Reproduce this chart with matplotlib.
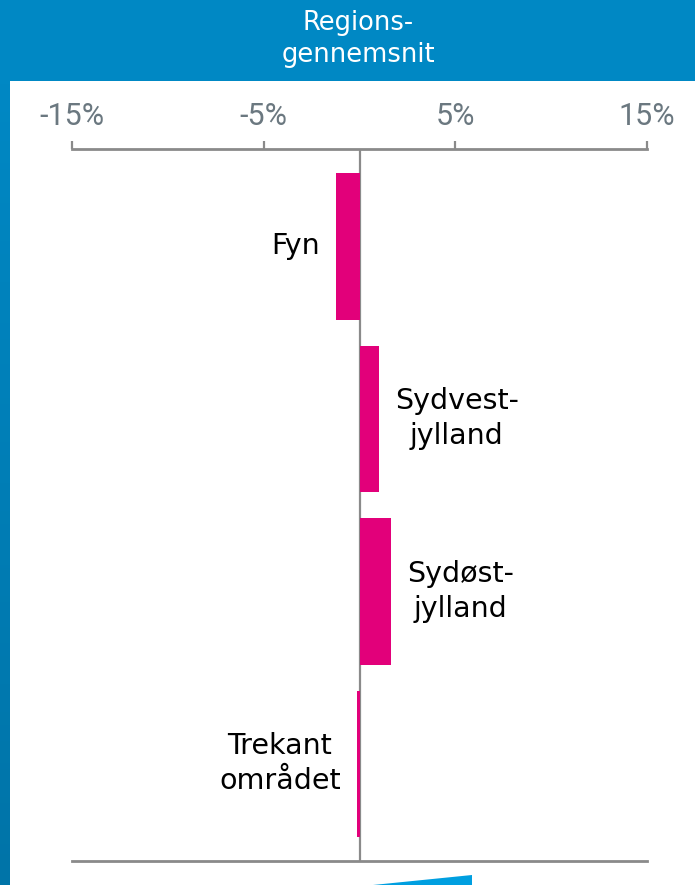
import numpy as np
import matplotlib
matplotlib.use("Agg")
import matplotlib.pyplot as plt
from matplotlib.patches import Polygon, Rectangle
from matplotlib.colors import LinearSegmentedColormap

# data
regions = ["Fyn", "Sydvest-\njylland", "Sydøst-\njylland", "Trekant\nområdet"]
values = [-1.25, 1.0, 1.65, -0.15]
ticks = [-15, -5, 5, 15]
tick_labels = ["-15%", "-5%", "5%", "15%"]
header = "Regions-\ngennemsnit"

W, H = 695, 885
fig = plt.figure(figsize=(W / 100, H / 100), dpi=100)
fig.patch.set_facecolor("white")

def px(x0, y0, x1, y1):
    # pixel box (top-left origin) -> figure fraction rect
    return [x0 / W, 1 - y1 / H, (x1 - x0) / W, (y1 - y0) / H]

# header band
fig.patches.append(Rectangle((0, 1 - 81 / H), 1, 81 / H, transform=fig.transFigure,
                             facecolor="#0088C4", edgecolor="none", zorder=0))
fig.text(358 / W, 1 - 39 / H, header, color="white", ha="center", va="center",
         fontsize=18.5, family="DejaVu Sans", linespacing=1.35)

# left gradient strip
strip = fig.add_axes(px(0, 81, 10, H))
grad = np.linspace(0, 1, 256).reshape(-1, 1)
cmap = LinearSegmentedColormap.from_list("strip", ["#0088C4", "#0074A8"])
strip.imshow(grad, aspect="auto", cmap=cmap)
strip.axis("off")

# bottom blue wedge
fig.patches.append(Polygon([(373 / W, 0), (472 / W, 10 / H), (472 / W, 0)],
                           closed=True, transform=fig.transFigure,
                           facecolor="#009FE0", edgecolor="none"))

# main chart
ax = fig.add_axes(px(72, 149, 647, 861))
y = np.arange(len(regions))
ax.barh(y, values, height=0.85, color="#E2007A", zorder=3)
ax.axvline(0, color="#8A8A8A", lw=1.6, zorder=2)
ax.set_xlim(-15, 15)
ax.set_ylim(len(regions) - 1 + 0.563, -0.565)

for s in ["left", "right"]:
    ax.spines[s].set_visible(False)
for s in ["top", "bottom"]:
    ax.spines[s].set_color("#8A8A8A")
    ax.spines[s].set_linewidth(2)

ax.xaxis.tick_top()
ax.set_xticks(ticks)
ax.set_xticklabels(tick_labels)
ax.tick_params(axis="x", direction="out", length=6, width=1.6, color="#8A8A8A",
               pad=7, labelsize=22, labelcolor="#6B7880")
for lab in ax.get_xticklabels():
    lab.set_family("Roboto")
ax.set_yticks([])

off = 0.84
for yi, v, name in zip(y, values, regions):
    if v < 0:
        ax.text(v - off, yi, name, ha="right", va="center", ma="center",
                fontsize=20.5, color="black", family="DejaVu Sans", linespacing=1.32)
    else:
        ax.text(v + off, yi, name, ha="left", va="center", ma="center",
                fontsize=20.5, color="black", family="DejaVu Sans", linespacing=1.32)

fig.savefig("out.png", dpi=100)
